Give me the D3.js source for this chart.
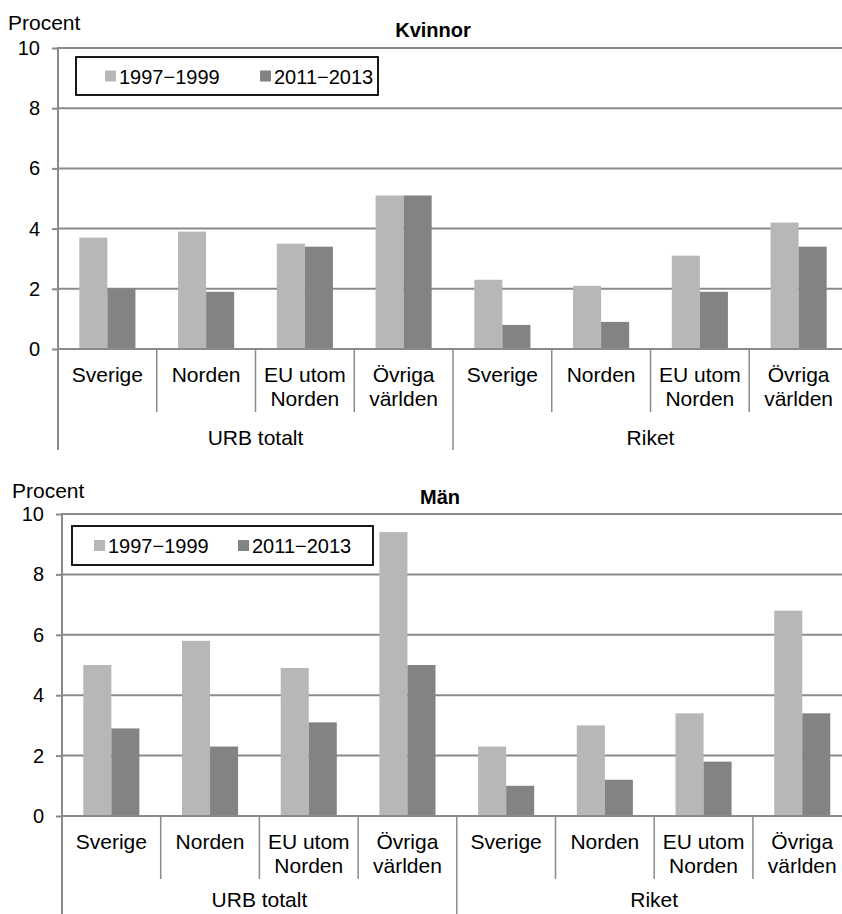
<!DOCTYPE html>
<html><head><meta charset="utf-8">
<script src="https://cdn.jsdelivr.net/npm/d3@7/dist/d3.min.js"></script>
<style>
html,body{margin:0;padding:0;background:#fff;}
svg{display:block;font-family:"Liberation Sans",Arial,sans-serif;}
</style></head>
<body>
<svg id="chart" width="842" height="914"></svg>
<script>
// ---- data ----
const groups = ["URB totalt", "Riket"];
const categories = [["Sverige"], ["Norden"], ["EU utom", "Norden"], ["Övriga", "världen"]];
const series = ["1997−1999", "2011−2013"];
const kvinnor1997 = [3.7, 3.9, 3.5, 5.1, 2.3, 2.1, 3.1, 4.2];
const kvinnor2011 = [2.0, 1.9, 3.4, 5.1, 0.8, 0.9, 1.9, 3.4];
const man1997 = [5.0, 5.8, 4.9, 9.4, 2.3, 3.0, 3.4, 6.8];
const man2011 = [2.9, 2.3, 3.1, 5.0, 1.0, 1.2, 1.8, 3.4];
const yTicks = [0, 2, 4, 6, 8, 10];
const titles = ["Kvinnor", "Män"];
const yLabel = "Procent";
const colors = ["#b7b7b7", "#838383"];

const svg = d3.select("#chart");
const nCat = groups.length * categories.length;
const slots = d3.range(nCat);

function panel(cfg, vals1, vals2, title) {
  const g = svg.append("g");
  const x0 = d3.scaleBand().domain(slots).range([cfg.left, cfg.left + cfg.step * nCat]).paddingInner(0).paddingOuter(0);
  const x1 = d3.scaleBand().domain(series).range([0, x0.bandwidth()]).paddingInner(0).paddingOuter(0.76);
  const y = d3.scaleLinear().domain([0, 10]).range([cfg.bottom, cfg.top]);

  // gridlines + y axis
  const yAxis = d3.axisLeft(y).tickValues(yTicks).tickFormat(d3.format("d")).tickSizeOuter(0).tickSizeInner(6).tickPadding(12);
  const ya = g.append("g").attr("transform", `translate(${cfg.left},0)`).call(yAxis);
  ya.select(".domain").remove();
  ya.selectAll(".tick line").attr("stroke", "#8a8a8a").attr("stroke-width", 2);
  ya.selectAll(".tick text").attr("fill", "#000").style("font-size", "20px").style("font-family", "'Liberation Sans',Arial,sans-serif");
  g.append("g").selectAll("line.grid").data(yTicks.filter(d => d > 0)).join("line")
    .attr("x1", cfg.left).attr("x2", 842).attr("y1", d => y(d)).attr("y2", d => y(d))
    .attr("stroke", "#8a8a8a").attr("stroke-width", 2);

  // bars
  const data = slots.map(i => ({ i, v: [vals1[i], vals2[i]] }));
  const bg = g.append("g").selectAll("g").data(data).join("g").attr("transform", d => `translate(${x0(d.i)},0)`);
  bg.selectAll("rect").data(d => series.map((s, k) => ({ s, k, v: d.v[k] }))).join("rect")
    .attr("x", d => x1(d.s)).attr("width", x1.bandwidth())
    .attr("y", d => y(d.v)).attr("height", d => y(0) - y(d.v))
    .attr("fill", d => colors[d.k]);

  // y axis line
  g.append("line").attr("x1", cfg.left).attr("x2", cfg.left).attr("y1", cfg.top - 1).attr("y2", cfg.bottom + cfg.groupDrop)
    .attr("stroke", "#8a8a8a").attr("stroke-width", 2);
  // baseline
  g.append("line").attr("x1", cfg.left).attr("x2", 842).attr("y1", y(0)).attr("y2", y(0))
    .attr("stroke", "#8a8a8a").attr("stroke-width", 2);

  // category separators
  const seps = d3.range(1, nCat + 1);
  g.append("g").selectAll("line").data(seps).join("line")
    .attr("x1", d => cfg.left + d * x0.step()).attr("x2", d => cfg.left + d * x0.step())
    .attr("y1", cfg.bottom).attr("y2", d => cfg.bottom + (d % categories.length === 0 ? cfg.groupDrop : cfg.catDrop))
    .attr("stroke", "#8a8a8a").attr("stroke-width", 1.5);

  // category labels
  const lab = g.append("g").selectAll("text").data(slots).join("text")
    .attr("text-anchor", "middle").attr("font-size", 21).attr("fill", "#000");
  lab.each(function (i) {
    const lines = categories[i % categories.length];
    d3.select(this).selectAll("tspan").data(lines).join("tspan")
      .attr("x", x0(i) + x0.bandwidth() / 2)
      .attr("y", (d, k) => cfg.bottom + 33 + k * 24)
      .text(d => d);
  });
  // group labels
  g.append("g").selectAll("text").data(groups).join("text")
    .attr("x", (d, j) => cfg.left + (j + 0.5) * categories.length * x0.step())
    .attr("y", cfg.bottom + cfg.groupLabDy).attr("text-anchor", "middle").attr("font-size", 21).text(d => d);

  // title and y label
  g.append("text").attr("x", cfg.titleX).attr("y", cfg.titleY).attr("text-anchor", "middle")
    .attr("font-size", 20).attr("font-weight", "bold").text(title);
  g.append("text").attr("x", cfg.ylabX).attr("y", cfg.ylabY).attr("font-size", 21).text(yLabel);

  // legend
  const L = cfg.legend;
  const lg = g.append("g");
  lg.append("rect").attr("x", L.x).attr("y", L.y).attr("width", L.w).attr("height", L.h)
    .attr("fill", "#fff").attr("stroke", "#000").attr("stroke-width", 1.8);
  const items = lg.selectAll("g").data(series).join("g")
    .attr("transform", (d, k) => `translate(${L.items[k]},${L.y + L.h / 2})`);
  items.append("rect").attr("x", 0).attr("y", -5.5).attr("width", 11).attr("height", 11).attr("fill", (d, k) => colors[k]);
  items.append("text").attr("x", 14).attr("y", 7.5).attr("font-size", 20).text(d => d);
}

panel({ left: 58, step: 98.75, top: 48, bottom: 349, catDrop: 63, groupDrop: 101, groupLabDy: 96,
        titleX: 433, titleY: 37, ylabX: 8, ylabY: 30,
        legend: { x: 76, y: 57, w: 302, h: 38, items: [105, 260] } },
      kvinnor1997, kvinnor2011, titles[0]);
panel({ left: 62, step: 98.7, top: 514, bottom: 816, catDrop: 63, groupDrop: 100, groupLabDy: 91,
        titleX: 440, titleY: 504, ylabX: 12, ylabY: 498,
        legend: { x: 72, y: 526, w: 301, h: 39, items: [94, 238] } },
      man1997, man2011, titles[1]);
</script>
</body></html>
